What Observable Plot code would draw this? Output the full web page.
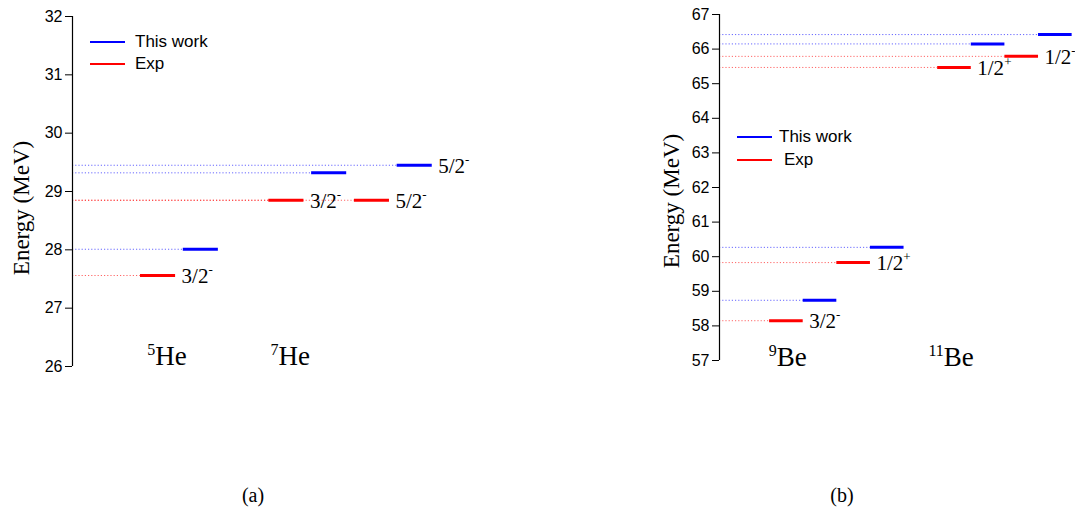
<!DOCTYPE html>
<html><head><meta charset="utf-8">
<script src="https://cdn.jsdelivr.net/npm/d3@7"></script>
<script src="https://cdn.jsdelivr.net/npm/@observablehq/plot@0.6"></script>
<style>
body{margin:0;background:#fff;}
#wrap{position:relative;width:1075px;height:515px;background:#fff;overflow:hidden;}
.panel{position:absolute;top:0;}
.serif{font-family:"Liberation Serif","Times New Roman",serif;color:#000;}
.sans{font-family:"Liberation Sans",Arial,sans-serif;color:#000;}
.ytitle{position:absolute;transform:translate(-50%,-50%) rotate(-90deg);white-space:nowrap;font-size:23px;}
.legline{position:absolute;height:2px;transform:translateY(-50%);}
.legtext{position:absolute;font-size:17px;transform:translateY(-50%);white-space:nowrap;}
.cap{position:absolute;font-size:20px;transform:translate(-50%,-50%);}
</style></head>
<body><div id="wrap"></div>
<script>
// ---- shared ----
const SERIES = ["This work", "Exp"];
const SERIES_COLORS = ["#0000ff", "#ff0000"];
const SERIF = "'Liberation Serif','Times New Roman',serif";
const SANS = "'Liberation Sans',Arial,sans-serif";

// ---- panel (a): He isotopes ----
const heSlots    = [0, 1, 3, 4, 5, 6];
const heEnergies = [27.56, 28.01, 28.85, 29.32, 28.85, 29.45];
const heSources  = ["Exp", "This work", "Exp", "This work", "Exp", "This work"];
const heLabels   = ["3/2-", "", "3/2-", "", "5/2-", "5/2-"];
const heNuclei   = ["5He", "7He"];
const heNucleusPos = [0.62, 3.5];
const heTicks    = [26, 27, 28, 29, 30, 31, 32];

// ---- panel (b): Be isotopes ----
const beSlots    = [0, 1, 2, 3, 5, 6, 7, 8];
const beEnergies = [58.15, 58.74, 59.83, 60.27, 65.47, 66.15, 65.79, 66.42];
const beSources  = ["Exp", "This work", "Exp", "This work", "Exp", "This work", "Exp", "This work"];
const beLabels   = ["3/2-", "", "1/2+", "", "1/2+", "", "1/2-", ""];
const beNuclei   = ["9Be", "11Be"];
const beNucleusPos = [0.54, 5.4];
const beTicks    = [57, 58, 59, 60, 61, 62, 63, 64, 65, 66, 67];

const yTitle = "Energy (MeV)";
const captions = ["(a)", "(b)"];

const wrap = document.getElementById("wrap");

function levelPlot(cfg) {
  const levels = cfg.slots.map((s, i) => ({slot: s, e: cfg.energies[i], src: cfg.sources[i], label: cfg.labels[i]}));
  const nuclei = cfg.nuclei.map((n, i) => ({name: n, pos: cfg.nucleusPos[i]}));
  const x0 = cfg.xDomain[0];
  const svg = Plot.plot({
    width: cfg.width, height: cfg.height,
    marginLeft: cfg.ml, marginRight: cfg.mr, marginTop: cfg.mt, marginBottom: cfg.mb,
    x: {domain: cfg.xDomain, axis: null},
    y: {domain: cfg.yDomain, axis: null},
    color: {domain: SERIES, range: SERIES_COLORS},
    style: {background: "transparent", overflow: "visible", fontFamily: SANS, color: "#000"},
    marks: [
      Plot.ruleY(levels, {x1: () => x0, x2: "slot", y: "e", stroke: "src", strokeWidth: 1, strokeDasharray: "1.2,2", strokeOpacity: 0.6}),
      Plot.ruleY(levels, {x1: "slot", x2: d => d.slot + cfg.barW, y: "e", stroke: "src", strokeWidth: 3}),
      Plot.ruleX([x0], {y1: () => cfg.yDomain[0], y2: () => cfg.yDomain[1], stroke: "#000", strokeWidth: 1.2}),
      Plot.axisY({ticks: cfg.ticks, tickFormat: d3.format("d"), tickSize: 7, tickPadding: 3, fontSize: 16, label: null, anchor: "left", stroke: "#000"}),
      Plot.text(levels.filter(d => d.label), {x: d => d.slot + cfg.barW, y: "e", text: "label", textAnchor: "start", dx: cfg.labelDx, dy: 1, fontSize: 21, fontFamily: SERIF, fill: "#000"}),
      Plot.text(nuclei, {x: "pos", frameAnchor: "bottom", lineAnchor: "bottom", text: "name", textAnchor: "middle", dy: cfg.nucDy, fontSize: 27, fontFamily: SERIF, fill: "#000"})
    ]
  });
  // superscripts
  d3.select(svg).selectAll("text").each(function () {
    const t = this.textContent;
    let m;
    if ((m = t.match(/^(\d\/2)([+-])$/))) {
      const s = d3.select(this);
      s.style("font-family", SERIF);
      s.text(m[1]);
      s.append("tspan").attr("font-size", 13).attr("dy", -9).text(m[2]);
    } else if ((m = t.match(/^(\d+)([A-Z][a-z]?)$/))) {
      const s = d3.select(this);
      s.style("font-family", SERIF);
      s.text(null);
      s.append("tspan").attr("font-size", 16).attr("dy", -10).text(m[1]);
      s.append("tspan").attr("dy", 10).text(m[2]);
    }
  });
  const div = document.createElement("div");
  div.className = "panel";
  div.style.left = cfg.left + "px";
  div.appendChild(svg);
  wrap.appendChild(div);
}

levelPlot({
  left: 0, width: 540, height: 400, ml: 72, mr: 15, mt: 16, mb: 34,
  xDomain: [-1.59, 9], yDomain: [26, 32], ticks: heTicks, barW: 0.82, labelDx: 6, nucDy: -2,
  slots: heSlots, energies: heEnergies, sources: heSources, labels: heLabels,
  nuclei: heNuclei, nucleusPos: heNucleusPos
});
levelPlot({
  left: 540, width: 535, height: 400, ml: 179, mr: 0, mt: 14, mb: 40,
  xDomain: [-1.49, 9.1], yDomain: [57, 67], ticks: beTicks, barW: 1, labelDx: 6, nucDy: 5,
  slots: beSlots, energies: beEnergies, sources: beSources, labels: beLabels,
  nuclei: beNuclei, nucleusPos: beNucleusPos
});

// HTML text: axis titles, legends, captions
function addEl(cls, text, x, y, extra) {
  const el = document.createElement("div");
  el.className = cls;
  el.textContent = text;
  el.style.left = x + "px";
  el.style.top = y + "px";
  if (extra) Object.assign(el.style, extra);
  wrap.appendChild(el);
  return el;
}
addEl("ytitle serif", yTitle, 22, 208);
addEl("ytitle serif", yTitle, 672, 201);

function legend(lx, ly, tx, gap, labels) {
  SERIES.forEach((s, i) => {
    addEl("legline", "", lx, ly + i * gap, {width: "35px", background: SERIES_COLORS[i]});
    addEl("legtext sans", labels[i], tx[i], ly + i * gap);
  });
}
legend(90, 42, [135, 135], 22, SERIES);
legend(737, 137, [779, 784], 23, SERIES);

addEl("cap serif", captions[0], 253, 495);
addEl("cap serif", captions[1], 842, 495);
</script>
</body></html>
